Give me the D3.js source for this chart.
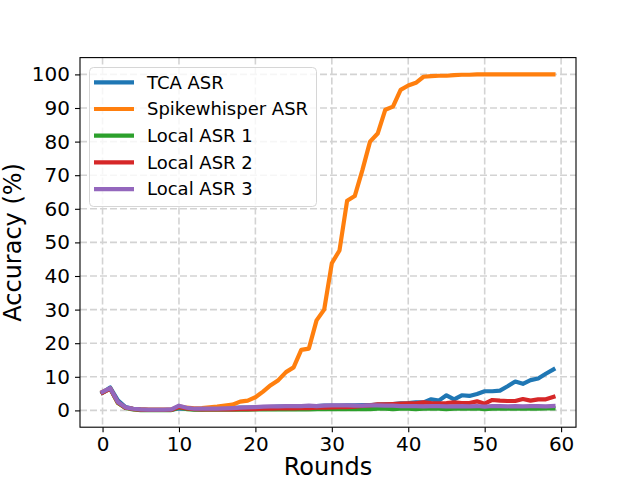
<!DOCTYPE html>
<html>
<head>
<meta charset="utf-8">
<script src="https://cdn.jsdelivr.net/npm/d3@7"></script>
<style>
  body { margin: 0; background: #fff; }
  text { font-family: "DejaVu Sans", sans-serif; }
</style>
</head>
<body>
<script>
// rounds 0..59
const rounds = d3.range(0, 60);

const tcaAsr = [5.3, 6.8, 3.0, 1.0, 0.5, 0.3, 0.2, 0.2, 0.2, 0.2,
  0.6, 0.5, 0.4, 0.4, 0.5, 0.5, 0.6, 0.7, 0.8, 0.8,
  0.9, 1.0, 1.0, 1.1, 1.1, 1.2, 1.2, 1.3, 1.3, 1.4,
  1.4, 1.4, 1.5, 1.5, 1.6, 1.6, 1.7, 1.8, 1.9, 2.1,
  2.2, 2.4, 2.4, 3.3, 2.9, 4.5, 3.3, 4.5, 4.3, 4.9,
  5.7, 5.7, 5.9, 7.2, 8.6, 7.9, 9.0, 9.5, 10.9, 12.2];

const spikeAsr = [5.5, 6.5, 2.2, 0.8, 0.5, 0.3, 0.2, 0.2, 0.2, 0.2,
  1.2, 0.8, 0.6, 0.7, 0.9, 1.1, 1.4, 1.7, 2.6, 2.9,
  3.9, 5.6, 7.5, 9.0, 11.4, 12.8, 18.0, 18.4, 26.8, 30.0,
  43.8, 47.6, 62.4, 63.8, 71.5, 80.0, 82.4, 89.5, 90.4, 95.4,
  96.7, 97.5, 99.3, 99.5, 99.6, 99.6, 99.8, 99.9, 99.9, 100,
  100, 100, 100, 100, 100, 100, 100, 100, 100, 100];

const localAsr1 = [5.3, 6.5, 2.3, 0.7, 0.3, 0.1, 0.1, 0.1, 0.1, 0.1,
  0.8, 0.4, 0.2, 0.2, 0.2, 0.2, 0.2, 0.2, 0.2, 0.2,
  0.3, 0.3, 0.3, 0.3, 0.3, 0.3, 0.3, 0.3, 0.4, 0.4,
  0.4, 0.4, 0.4, 0.4, 0.4, 0.4, 0.5, 0.5, 0.4, 0.5,
  0.5, 0.4, 0.5, 0.5, 0.5, 0.4, 0.5, 0.5, 0.5, 0.6,
  0.4, 0.5, 0.5, 0.5, 0.6, 0.5, 0.5, 0.5, 0.6, 0.6];

const localAsr2 = [5.3, 6.5, 2.4, 0.8, 0.4, 0.2, 0.2, 0.2, 0.2, 0.2,
  1.0, 0.6, 0.4, 0.3, 0.3, 0.3, 0.3, 0.3, 0.4, 0.4,
  0.4, 0.5, 0.5, 0.6, 0.6, 0.6, 0.7, 0.7, 0.8, 0.8,
  0.9, 1.0, 1.0, 1.1, 1.3, 1.5, 1.8, 1.8, 1.9, 2.0,
  2.1, 2.1, 2.4, 2.2, 2.1, 2.2, 2.4, 2.2, 2.2, 2.7,
  2.0, 3.1, 2.9, 2.8, 2.8, 3.4, 2.9, 3.3, 3.3, 4.0];

const localAsr3 = [5.5, 6.6, 2.5, 0.9, 0.5, 0.3, 0.2, 0.2, 0.2, 0.3,
  1.4, 0.8, 0.5, 0.5, 0.5, 0.5, 0.6, 0.7, 0.8, 0.9,
  1.0, 1.1, 1.2, 1.2, 1.3, 1.3, 1.3, 1.4, 1.3, 1.4,
  1.5, 1.5, 1.5, 1.4, 1.4, 1.5, 1.5, 1.4, 1.4, 1.3,
  1.3, 1.3, 1.2, 1.3, 1.3, 1.2, 1.2, 1.3, 1.2, 1.3,
  1.1, 1.3, 1.3, 1.2, 1.3, 1.2, 1.3, 1.3, 1.2, 1.3];

const seriesNames = ["TCA ASR", "Spikewhisper ASR", "Local ASR 1", "Local ASR 2", "Local ASR 3"];
const seriesValues = [tcaAsr, spikeAsr, localAsr1, localAsr2, localAsr3];
const colors = ["#1f77b4", "#ff7f0e", "#2ca02c", "#d62728", "#9467bd"];

const xTicks = [0, 10, 20, 30, 40, 50, 60];
const yTicks = [0, 10, 20, 30, 40, 50, 60, 70, 80, 90, 100];

const width = 640;
const height = 480;
const marginTop = 57.6;
const marginRight = 64;
const marginBottom = 52.8;
const marginLeft = 80;

const x = d3.scaleLinear()
    .domain([-2.95, 61.95])
    .range([marginLeft, width - marginRight]);

const y = d3.scaleLinear()
    .domain([-5, 105])
    .range([height - marginBottom, marginTop]);

const svg = d3.select("body")
  .append("svg")
    .attr("width", width)
    .attr("height", height)
    .attr("viewBox", [0, 0, width, height]);

// dashed grid
const grid = svg.append("g")
    .attr("stroke", "#d3d3d3")
    .attr("stroke-width", 1.6)
    .attr("stroke-dasharray", "7,3");
grid.selectAll(".vx")
  .data(xTicks)
  .join("line")
    .attr("x1", d => x(d)).attr("x2", d => x(d))
    .attr("y1", marginTop).attr("y2", height - marginBottom);
grid.selectAll(".hy")
  .data(yTicks)
  .join("line")
    .attr("x1", marginLeft).attr("x2", width - marginRight)
    .attr("y1", d => y(d)).attr("y2", d => y(d));

// lines
const line = d3.line()
    .x((d, i) => x(rounds[i]))
    .y(d => y(d));

svg.append("g")
    .attr("fill", "none")
    .attr("stroke-width", 4.2)
    .attr("stroke-linejoin", "round")
    .attr("stroke-linecap", "square")
  .selectAll("path")
  .data(seriesValues)
  .join("path")
    .attr("stroke", (d, i) => colors[i])
    .attr("d", line);

// axes
svg.append("g")
    .attr("transform", `translate(0,${height - marginBottom})`)
    .call(d3.axisBottom(x).tickValues(xTicks).tickSize(5).tickPadding(5).tickSizeOuter(0))
    .call(g => g.select(".domain").remove())
    .call(g => g.selectAll("line").attr("stroke-width", 1.1))
    .call(g => g.selectAll("text").attr("font-size", 20).attr("font-family", "DejaVu Sans").attr("fill", "#000"));

svg.append("g")
    .attr("transform", `translate(${marginLeft},0)`)
    .call(d3.axisLeft(y).tickValues(yTicks).tickSize(5).tickPadding(5).tickSizeOuter(0))
    .call(g => g.select(".domain").remove())
    .call(g => g.selectAll("line").attr("stroke-width", 1.1))
    .call(g => g.selectAll("text").attr("font-size", 20).attr("font-family", "DejaVu Sans").attr("fill", "#000"));

// frame
svg.append("rect")
    .attr("x", marginLeft)
    .attr("y", marginTop)
    .attr("width", width - marginLeft - marginRight)
    .attr("height", height - marginTop - marginBottom)
    .attr("fill", "none")
    .attr("stroke", "#000")
    .attr("stroke-width", 1.1);

// axis labels
svg.append("text")
    .attr("x", (marginLeft + width - marginRight) / 2)
    .attr("y", 475)
    .attr("text-anchor", "middle")
    .attr("font-size", 24)
    .text("Rounds");

svg.append("text")
    .attr("transform", `translate(21,${(marginTop + height - marginBottom) / 2}) rotate(-90)`)
    .attr("text-anchor", "middle")
    .attr("font-size", 24)
    .text("Accuracy (%)");

// legend
const legend = svg.append("g");
legend.append("rect")
    .attr("x", 89.5).attr("y", 67.5)
    .attr("width", 227).attr("height", 139)
    .attr("rx", 4)
    .attr("fill", "#fff").attr("fill-opacity", 0.8)
    .attr("stroke", "#d6d6d6");

const items = legend.selectAll(".item")
  .data(seriesNames)
  .join("g")
    .attr("transform", (d, i) => `translate(0,${82.3 + i * 26.7})`);
items.append("line")
    .attr("x1", 94).attr("x2", 134)
    .attr("stroke", (d, i) => colors[i])
    .attr("stroke-width", 4.2);
items.append("text")
    .attr("x", 147)
    .attr("dy", "0.35em")
    .attr("font-size", 18)
    .text(d => d);
</script>
</body>
</html>
